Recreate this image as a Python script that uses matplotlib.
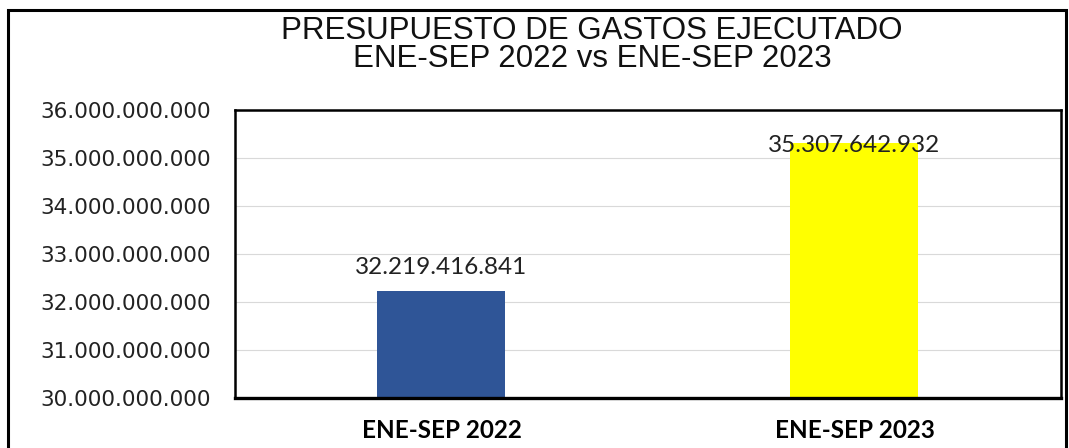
import matplotlib
matplotlib.use("Agg")
import matplotlib.pyplot as plt
import matplotlib.patches as patches
from matplotlib.ticker import FuncFormatter

categories = ['ENE-SEP 2022', 'ENE-SEP 2023']
values = [32219416841, 35307642932]
bar_colors = ['#2F5597', '#FFFF00']
y_ticks = [30e9, 31e9, 32e9, 33e9, 34e9, 35e9, 36e9]
title_lines = ['PRESUPUESTO DE GASTOS EJECUTADO', 'ENE-SEP 2022 vs ENE-SEP 2023']


def miles(v, pos=None):  # 1234567 -> 1.234.567
    return f'{int(round(v)):,}'.replace(',', '.')


fig = plt.figure(figsize=(10.69, 4.48), dpi=100)
ax = fig.add_axes([0.2198, 0.1116, 0.7727, 0.6429])

x = list(range(len(categories)))
ax.bar(x, values, width=0.31, color=bar_colors, zorder=2)
ax.set_xlim(-0.5, 1.5)
ax.set_ylim(30e9, 36e9)
ax.set_yticks(y_ticks)
ax.yaxis.set_major_formatter(FuncFormatter(miles))
ax.set_xticks(x)
ax.set_xticklabels(categories, fontfamily=['Lato', 'DejaVu Sans'],
                   fontweight='bold', fontsize=17.5)
ax.tick_params(axis='y', length=0, pad=17, labelsize=15.6, labelcolor='#222222')
ax.tick_params(axis='x', length=0, pad=15)
ax.grid(axis='y', color='#d9d9d9', linewidth=0.8, zorder=0)
for s in ax.spines.values():
    s.set_linewidth(1.8)
ax.spines['bottom'].set_linewidth(2.4)

# data labels
offsets = [17, -1.5]
for xi, v, off in zip(x, values, offsets):
    ax.annotate(miles(v), (xi, v), xytext=(0, off), textcoords='offset points',
                ha='center', va='center', fontsize=17.5,
                fontfamily=['Lato', 'DejaVu Sans'], color='#222222', zorder=3)

# title, two lines
for yy, line in zip([1 - 31 / 448, 1 - 59 / 448], title_lines):
    fig.text(592 / 1069, yy, line, ha='center', va='center', fontsize=22.5,
             fontfamily=['Liberation Sans', 'DejaVu Sans'], color='#111111')

# outer chart border
fig.patches.append(patches.Rectangle((8 / 1069, -0.2), 1058 / 1069, 1.2 - 10 / 448,
                                     transform=fig.transFigure, fill=False,
                                     edgecolor='black', linewidth=2.2, clip_on=False))

fig.savefig('out.png', dpi=100)
